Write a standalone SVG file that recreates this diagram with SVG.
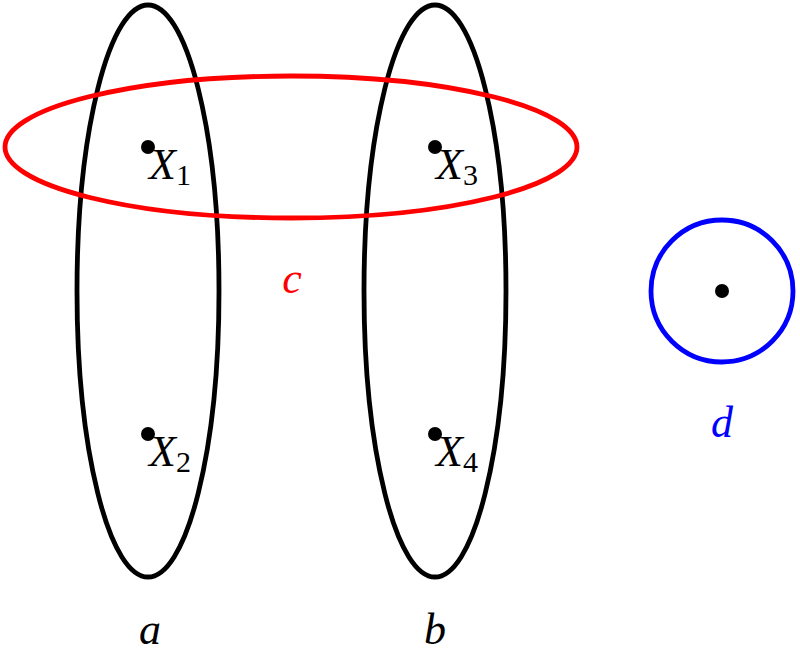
<svg xmlns="http://www.w3.org/2000/svg" width="800" height="656" viewBox="0 0 800 656">
<style>
.e{fill:none;stroke-width:4.8}
.dot{fill:#000}
.t{font-family:"Liberation Serif","DejaVu Serif",serif;font-style:italic;font-size:44px}
.s{font-family:"Liberation Serif","DejaVu Serif",serif;font-size:30px}
</style>
<rect width="800" height="656" fill="#fff"/>
<g id="a"><ellipse class="e" stroke="#000" cx="148" cy="291" rx="71" ry="286"/><text class="t" x="150" y="644" text-anchor="middle">a</text></g>
<g id="b"><ellipse class="e" stroke="#000" cx="435" cy="291" rx="71" ry="286"/><text class="t" x="435" y="644" text-anchor="middle">b</text></g>
<g id="c"><ellipse class="e" stroke="#f00" cx="291" cy="147" rx="286" ry="71"/><text class="t" x="292" y="293" text-anchor="middle" fill="#f00">c</text></g>
<g id="d"><circle class="e" stroke="#00f" cx="722" cy="291" r="71"/><circle class="dot" cx="722" cy="291" r="7"/><text class="t" x="722" y="437" text-anchor="middle" fill="#00f">d</text></g>
<g id="X1"><circle class="dot" cx="148" cy="147" r="7"/><text x="149" y="179"><tspan class="t">X</tspan><tspan class="s" dy="6">1</tspan></text></g>
<g id="X2"><circle class="dot" cx="148" cy="434" r="7"/><text x="149" y="466"><tspan class="t">X</tspan><tspan class="s" dy="6">2</tspan></text></g>
<g id="X3"><circle class="dot" cx="435" cy="147" r="7"/><text x="436" y="179"><tspan class="t">X</tspan><tspan class="s" dy="6">3</tspan></text></g>
<g id="X4"><circle class="dot" cx="435" cy="434" r="7"/><text x="436" y="466"><tspan class="t">X</tspan><tspan class="s" dy="6">4</tspan></text></g>
<g id="connectors"/>
</svg>
